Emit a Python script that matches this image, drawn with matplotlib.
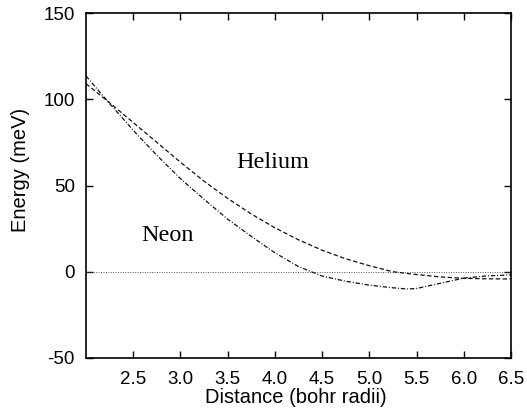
import matplotlib
matplotlib.use("Agg")
import matplotlib.pyplot as plt

# Data
distance = [2.0, 2.25, 2.5, 2.75, 3.0, 3.25, 3.5, 3.75, 4.0, 4.25, 4.5,
            4.75, 5.0, 5.25, 5.4, 5.5, 5.75, 6.0, 6.25, 6.5]
helium = [109.0, 98.0, 86.5, 75.0, 63.5, 52.5, 42.5, 33.5, 25.5, 18.5, 12.5,
          7.5, 3.5, 0.0, -1.0, -1.6, -3.0, -3.8, -4.1, -4.2]
neon = [113.5, 97.5, 82.0, 67.5, 54.0, 42.0, 30.5, 20.5, 11.0, 3.0, -2.5,
        -5.5, -7.8, -9.3, -10.0, -9.7, -6.7, -3.7, -2.4, -1.8]
zero_x = [2.0, 6.5]
zero_y = [0.0, 0.0]

x_ticks = [2.5, 3.0, 3.5, 4.0, 4.5, 5.0, 5.5, 6.0, 6.5]
x_ticklabels = ["2.5", "3.0", "3.5", "4.0", "4.5", "5.0", "5.5", "6.0", "6.5"]
y_ticks = [-50, 0, 50, 100, 150]
y_ticklabels = ["-50", "0", "50", "100", "150"]

fig = plt.figure(figsize=(5.27, 4.17), dpi=100)
ax = fig.add_axes([86 / 527, 1 - 358 / 417, 425 / 527, 345 / 417])

ax.plot(zero_x, zero_y, color="#555555", linestyle=(0, (1, 1.5)), linewidth=0.7)
ax.plot(distance, helium, color="#111111", linestyle=(0, (3.5, 2.0)), linewidth=0.9)
ax.plot(distance, neon, color="#111111", linestyle=(0, (3.5, 1.5, 0.8, 1.5)), linewidth=0.9)

ax.set_xlim(2.0, 6.5)
ax.set_ylim(-50, 150)
ax.set_xticks(x_ticks)
ax.set_xticklabels(x_ticklabels)
ax.set_yticks(y_ticks)
ax.set_yticklabels(y_ticklabels)

for lab in ax.get_xticklabels() + ax.get_yticklabels():
    lab.set_fontfamily("Liberation Sans")
    lab.set_fontsize(13.5)

ax.tick_params(axis="both", direction="in", length=5, width=1.0,
               top=True, right=True, color="black")
ax.tick_params(axis="x", pad=9.5)
ax.tick_params(axis="y", pad=8)
for s in ax.spines.values():
    s.set_linewidth(1.2)

ax.set_xlabel("Distance (bohr radii)", fontfamily="Liberation Sans", fontsize=14.5)
ax.set_ylabel("Energy (meV)", fontfamily="Liberation Sans", fontsize=14.5)
ax.xaxis.set_label_coords(0.494, -0.115)
ax.xaxis.label.set_va("center")
ax.yaxis.set_label_coords(-0.155, 0.545)
ax.yaxis.label.set_va("center")

ax.text(3.98, 63.6, "Helium", family="Liberation Serif", fontsize=17.5,
        ha="center", va="center")
ax.text(2.86, 21.3, "Neon", family="Liberation Serif", fontsize=17.5,
        ha="center", va="center")

fig.savefig("out.png", dpi=100)
